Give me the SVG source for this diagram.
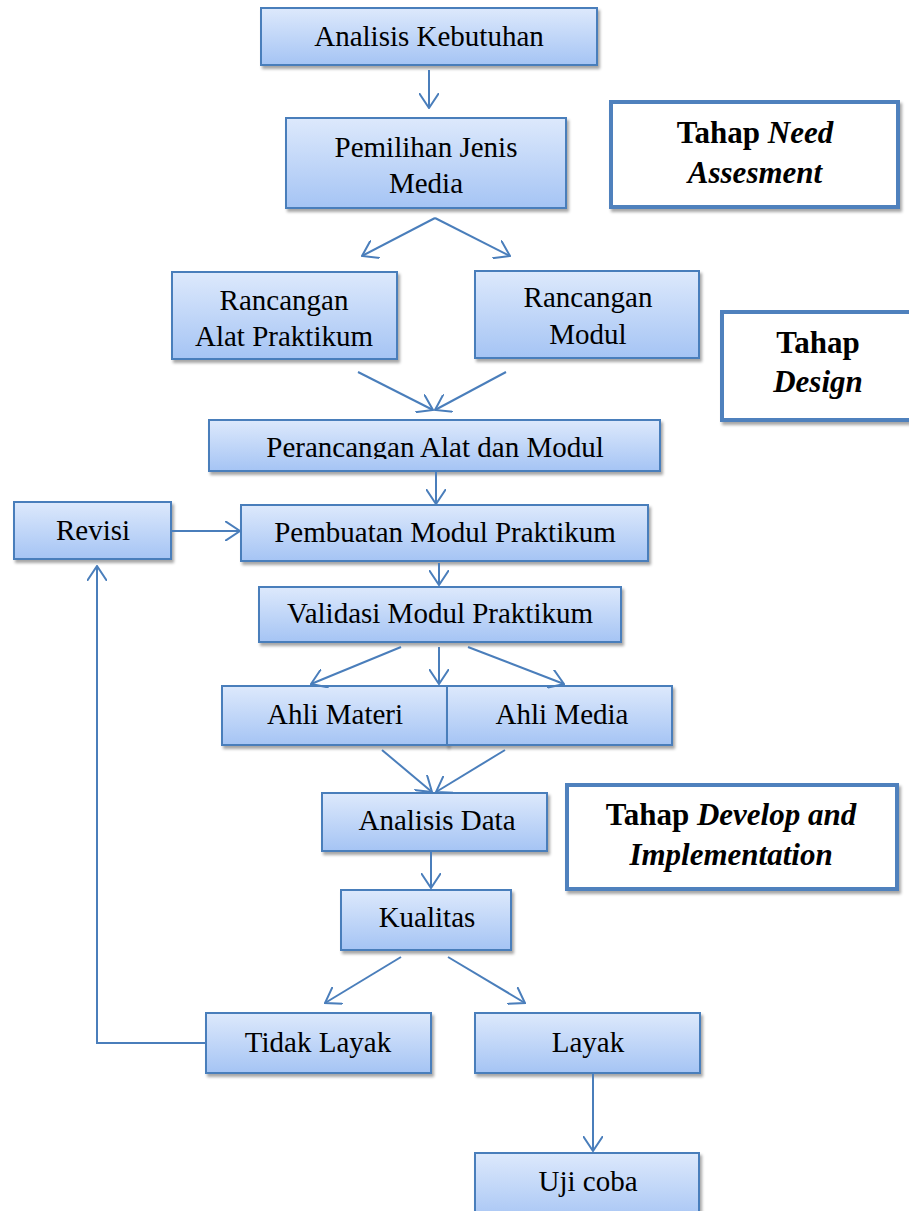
<svg xmlns="http://www.w3.org/2000/svg" width="909" height="1211" viewBox="0 0 909 1211">
<defs>
<linearGradient id="g" x1="0" y1="0" x2="0" y2="1">
<stop offset="0" stop-color="#dde9fc"/>
<stop offset="1" stop-color="#a5c4f4"/>
</linearGradient>
<filter id="sh" x="-10%" y="-10%" width="130%" height="140%">
<feDropShadow dx="2" dy="3" stdDeviation="1.8" flood-color="#000" flood-opacity="0.35"/>
</filter>
<marker id="ah" viewBox="0 0 16 20" refX="15" refY="10" markerWidth="16" markerHeight="20" markerUnits="userSpaceOnUse" orient="auto">
<path d="M0,0 L15,10 L0,20" fill="none" stroke="#4a7ebb" stroke-width="2"/>
</marker>
<clipPath id="clip5"><rect x="209" y="420" width="451" height="39"/></clipPath>
</defs>
<style>
.box{fill:url(#g);stroke:#4a7ebb;stroke-width:2;filter:url(#sh)}
.lab{fill:#fff;stroke:#4f81bd;stroke-width:4;filter:url(#sh)}
.t{font-family:"Liberation Serif","Times New Roman",serif;font-size:29px;fill:#000;text-anchor:middle}
.b{font-family:"Liberation Serif","Times New Roman",serif;font-size:31px;font-weight:bold;fill:#000;text-anchor:middle}
.i{font-style:italic}
.c{fill:none;stroke:#4a7ebb;stroke-width:2;marker-end:url(#ah)}
.sep{stroke:#4f81bd;stroke-width:4.5;filter:url(#sh)}
</style>
<rect width="909" height="1211" fill="#fff"/>

<g id="sep1"><line class="sep" x1="542" y1="235" x2="898" y2="235"/></g>
<g id="sep2"><line class="sep" x1="553" y1="488" x2="909" y2="488"/></g>

<g id="label-need"><rect class="lab" x="611" y="102" width="287" height="105"/>
<text class="b" x="755" y="143">Tahap <tspan class="i">Need</tspan></text>
<text class="b i" x="755" y="183">Assesment</text></g>

<g id="label-design"><rect class="lab" x="722" y="312" width="200" height="108"/>
<text class="b" x="818" y="353">Tahap</text>
<text class="b i" x="818" y="392">Design</text></g>

<g id="label-develop"><rect class="lab" x="567" y="785" width="330" height="104"/>
<text class="b" x="731" y="825">Tahap <tspan class="i">Develop and</tspan></text>
<text class="b i" x="731" y="865">Implementation</text></g>

<g id="n1"><rect class="box" x="261" y="8" width="336" height="57"/><text class="t" x="429" y="46">Analisis Kebutuhan</text></g>
<g id="n2"><rect class="box" x="286" y="118" width="280" height="90"/><text class="t" x="426" y="157">Pemilihan Jenis</text><text class="t" x="426" y="193">Media</text></g>
<g id="n3"><rect class="box" x="172" y="272" width="225" height="87"/><text class="t" x="284" y="310">Rancangan</text><text class="t" x="284" y="346">Alat Praktikum</text></g>
<g id="n4"><rect class="box" x="475" y="271" width="224" height="87"/><text class="t" x="588" y="307">Rancangan</text><text class="t" x="588" y="344">Modul</text></g>
<g id="n5"><rect class="box" x="209" y="420" width="451" height="51"/><text class="t" x="435" y="457" clip-path="url(#clip5)">Perancangan Alat dan Modul</text></g>
<g id="n6"><rect class="box" x="14" y="502" width="157" height="57"/><text class="t" x="93" y="540">Revisi</text></g>
<g id="n7"><rect class="box" x="241" y="505" width="407" height="56"/><text class="t" x="445" y="542">Pembuatan Modul Praktikum</text></g>
<g id="n8"><rect class="box" x="259" y="587" width="362" height="55"/><text class="t" x="440" y="623">Validasi Modul Praktikum</text></g>
<g id="n9"><rect class="box" x="222" y="686" width="225" height="59"/><text class="t" x="335" y="724">Ahli Materi</text></g>
<g id="n10"><rect class="box" x="447" y="686" width="225" height="59"/><text class="t" x="562" y="724">Ahli Media</text></g>
<g id="n11"><rect class="box" x="322" y="793" width="225" height="58"/><text class="t" x="437" y="830">Analisis Data</text></g>
<g id="n12"><rect class="box" x="341" y="890" width="170" height="60"/><text class="t" x="427" y="927">Kualitas</text></g>
<g id="n13"><rect class="box" x="206" y="1013" width="225" height="60"/><text class="t" x="318" y="1052">Tidak Layak</text></g>
<g id="n14"><rect class="box" x="475" y="1013" width="225" height="60"/><text class="t" x="588" y="1052">Layak</text></g>
<g id="n15"><rect class="box" x="475" y="1153" width="224" height="70"/><text class="t" x="588" y="1191">Uji coba</text></g>

<g id="connectors">
<line class="c" x1="429" y1="70" x2="429" y2="108"/>
<line class="c" x1="435" y1="218" x2="362" y2="256"/>
<line class="c" x1="435" y1="218" x2="510" y2="256"/>
<line class="c" x1="358" y1="372" x2="433" y2="410"/>
<line class="c" x1="506" y1="372" x2="435" y2="410"/>
<line class="c" x1="436" y1="472" x2="436" y2="504"/>
<line class="c" x1="171" y1="531" x2="240" y2="531"/>
<line class="c" x1="439" y1="563" x2="439" y2="585"/>
<line class="c" x1="401" y1="647" x2="311" y2="684"/>
<line class="c" x1="439" y1="647" x2="439" y2="684"/>
<line class="c" x1="468" y1="647" x2="564" y2="684"/>
<line class="c" x1="382" y1="750" x2="432" y2="792"/>
<line class="c" x1="505" y1="750" x2="436" y2="792"/>
<line class="c" x1="431" y1="852" x2="431" y2="888"/>
<line class="c" x1="401" y1="957" x2="325" y2="1003"/>
<line class="c" x1="448" y1="957" x2="525" y2="1003"/>
<line class="c" x1="593" y1="1074" x2="593" y2="1151"/>
<polyline class="c" points="206,1043 97,1043 97,566"/>
</g>
</svg>
